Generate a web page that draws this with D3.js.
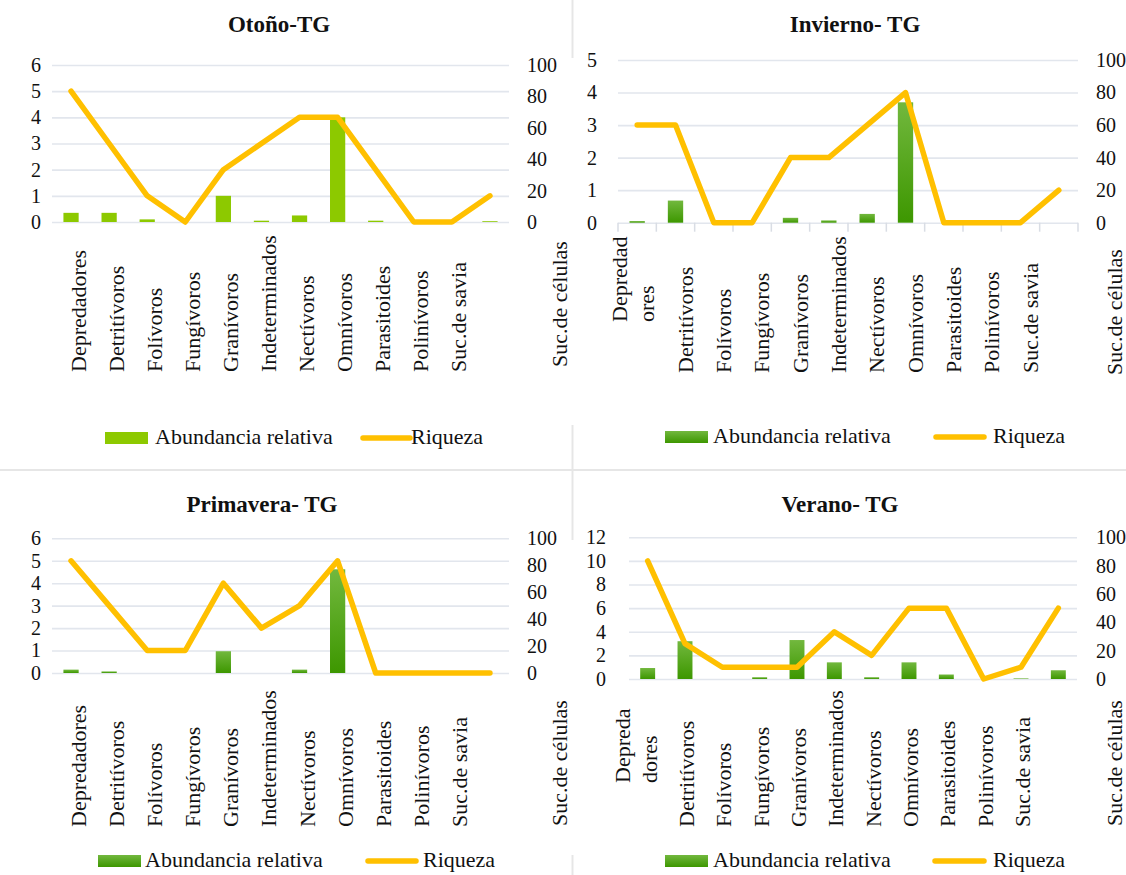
<!DOCTYPE html>
<html>
<head>
<meta charset="utf-8">
<script src="https://cdn.jsdelivr.net/npm/d3@7"></script>
<style>
body { margin: 0; background: #fff; }
</style>
</head>
<body>
<svg id="chart" width="1126" height="875"></svg>
<script>
// feeding guilds (x axis)
const categories = ["Depredadores", "Detritívoros", "Folívoros", "Fungívoros", "Granívoros",
    "Indeterminados", "Nectívoros", "Omnívoros", "Parasitoides", "Polinívoros",
    "Suc.de savia", "Suc.de células"];

// abundancia relativa (left axis) and riqueza (right axis) per season
const otonoAbund = [0.35, 0.35, 0.1, 0, 1.0, 0.05, 0.25, 4.0, 0.05, 0, 0, 0.03];
const otonoRiq = [83.3, 50, 16.7, 0, 33.3, 50, 66.7, 66.7, 33.3, 0, 0, 16.7];

const inviernoAbund = [0.05, 0.68, 0, 0, 0.15, 0.07, 0.27, 3.7, 0, 0, 0, 0];
const inviernoRiq = [60, 60, 0, 0, 40, 40, 60, 80, 0, 0, 0, 20];

const primaveraAbund = [0.15, 0.07, 0, 0, 0.97, 0, 0.15, 4.62, 0, 0, 0, 0];
const primaveraRiq = [83.3, 50, 16.7, 16.7, 66.7, 33.3, 50, 83.3, 0, 0, 0, 0];

const veranoAbund = [0.93, 3.2, 0, 0.15, 3.3, 1.41, 0.15, 1.41, 0.38, 0, 0.05, 0.74];
const veranoRiq = [83.3, 25, 8.3, 8.3, 8.3, 33.3, 16.7, 50, 50, 0, 8.3, 50];

// axis ticks
const rightTicks = [0, 20, 40, 60, 80, 100];
const legendBar = "Abundancia relativa";
const legendLine = "Riqueza";

const FONT = "'Liberation Serif', 'Times New Roman', serif";

// layout of the four charts
const panels = [
    {title: "Otoño-TG", abund: otonoAbund, riq: otonoRiq, leftMax: 6, leftStep: 1,
     x0: 52, x1: 509, yTop: 65, yZero: 222, titleX: 279, titleY: 32,
     leftLab: 41, rightLab: 527, labY: 372, labOff: 14.5, lastX: 567, lastY: 367,
     wrap: {}, catTicks: false, flat: true,
     leg: {sx: 105, y: 438, tx: 155, lx1: 363, lx2: 410, rx: 411}},
    {title: "Invierno- TG", abund: inviernoAbund, riq: inviernoRiq, leftMax: 5, leftStep: 1,
     x0: 618, x1: 1078, yTop: 60, yZero: 222.7, titleX: 855, titleY: 32,
     leftLab: 597, rightLab: 1096, labY: 373, labOff: 17, lastX: 1122, lastY: 375,
     wrap: {"Depredadores": ["Depredad", "ores"]}, wrapY: 322, catTicks: true, flat: false,
     leg: {sx: 665, y: 437, tx: 713, lx1: 936, lx2: 984, rx: 993}},
    {title: "Primavera- TG", abund: primaveraAbund, riq: primaveraRiq, leftMax: 6, leftStep: 1,
     x0: 52, x1: 509, yTop: 538.3, yZero: 673, titleX: 262, titleY: 512,
     leftLab: 41, rightLab: 527, labY: 827, labOff: 15, lastX: 567, lastY: 826,
     wrap: {}, catTicks: false, flat: false,
     leg: {sx: 98, y: 861, tx: 145, lx1: 368, lx2: 416, rx: 423}},
    {title: "Verano- TG", abund: veranoAbund, riq: veranoRiq, leftMax: 12, leftStep: 2,
     x0: 629, x1: 1077, yTop: 537.3, yZero: 679, titleX: 840, titleY: 512,
     leftLab: 606, rightLab: 1096, labY: 827, labOff: 9, lastX: 1122, lastY: 826,
     wrap: {"Depredadores": ["Depreda", "dores"]}, wrapY: 783, catTicks: false, flat: false,
     leg: {sx: 665, y: 861, tx: 713, lx1: 935, lx2: 984, rx: 993}}
];

const svg = d3.select("#chart")
    .attr("font-family", FONT);

// gradient for the darker green bars
let grad = svg.append("defs").append("linearGradient")
    .attr("id", "greenGrad")
    .attr("x1", 0).attr("y1", 0).attr("x2", 0).attr("y2", 1);
grad.append("stop").attr("offset", "0%").attr("stop-color", "#72b83e");
grad.append("stop").attr("offset", "100%").attr("stop-color", "#3d9700");

// faint borders left over from the spreadsheet charts
const border = "#e6e6e6";
svg.append("line").attr("x1", 0).attr("x2", 1126).attr("y1", 470).attr("y2", 470)
    .attr("stroke", border).attr("stroke-width", 2);
[[0, 58], [425, 540], [855, 875]].forEach(function(s) {
    svg.append("line").attr("x1", 572.5).attr("x2", 572.5).attr("y1", s[0]).attr("y2", s[1])
        .attr("stroke", border).attr("stroke-width", 2);
});

panels.forEach(function(p) { drawPanel(p); });

function txt(sel) {
    return sel.style("font-family", FONT).attr("fill", "#111");
}

function drawPanel(p) {
    let g = svg.append("g");

    let x = d3.scaleBand().domain(categories).range([p.x0, p.x1]);
    let yL = d3.scaleLinear().domain([0, p.leftMax]).range([p.yZero, p.yTop]);
    let yR = d3.scaleLinear().domain([0, 100]).range([p.yZero, p.yTop]);
    let cx = function(c) { return x(c) + x.bandwidth() / 2; };

    // left axis with gridlines
    let leftTicks = d3.range(0, p.leftMax + p.leftStep / 2, p.leftStep);
    let la = g.append("g")
        .attr("transform", "translate(" + p.x0 + ",0)")
        .call(d3.axisLeft(yL).tickValues(leftTicks).tickFormat(d3.format("d"))
            .tickSize(-(p.x1 - p.x0)).tickPadding(p.x0 - p.leftLab));
    la.select(".domain").remove();
    la.selectAll("line").attr("stroke", "#e2e6ed").attr("stroke-width", 1.6);
    txt(la.selectAll("text")).attr("font-size", 20);

    // right axis, no lines
    let ra = g.append("g")
        .attr("transform", "translate(" + p.x1 + ",0)")
        .call(d3.axisRight(yR).tickValues(rightTicks).tickFormat(d3.format("d"))
            .tickSize(0).tickPadding(p.rightLab - p.x1));
    ra.select(".domain").remove();
    txt(ra.selectAll("text")).attr("font-size", 20);

    // little category ticks under the axis
    if (p.catTicks) {
        let edges = categories.map(function(c) { return x(c); }).concat([p.x1]);
        g.selectAll("line.ctick").data(edges).enter().append("line")
            .attr("x1", function(d) { return d; }).attr("x2", function(d) { return d; })
            .attr("y1", p.yZero).attr("y2", p.yZero + 9)
            .attr("stroke", "#d9dde4").attr("stroke-width", 1.5);
    }

    // the bars
    let bw = x.bandwidth() * 0.4;
    g.selectAll("rect.bar")
        .data(p.abund.map(function(v, i) { return {cat: categories[i], val: v}; }))
        .enter().append("rect")
        .attr("x", function(d) { return cx(d.cat) - bw / 2; })
        .attr("y", function(d) { return yL(d.val); })
        .attr("width", bw)
        .attr("height", function(d) { return p.yZero - yL(d.val); })
        .attr("fill", p.flat ? "#8dc900" : "url(#greenGrad)");

    // riqueza line
    let line = d3.line()
        .x(function(d, i) { return cx(categories[i]); })
        .y(function(d) { return yR(d); });
    g.append("path")
        .datum(p.riq)
        .attr("d", line)
        .attr("fill", "none")
        .attr("stroke", "#ffc000")
        .attr("stroke-width", 5.5)
        .attr("stroke-linejoin", "round")
        .attr("stroke-linecap", "round");

    // category labels, rotated
    categories.forEach(function(c, i) {
        let bx = cx(c) + p.labOff;
        let by = p.labY;
        if (i == categories.length - 1) {
            bx = p.lastX;
            by = p.lastY;
        }
        let lines = p.wrap[c] ? p.wrap[c] : [c];
        if (p.wrap[c]) {
            by = p.wrapY;
        }
        lines.forEach(function(t, k) {
            let lx = bx - 27 * (lines.length - 1 - k);
            txt(g.append("text"))
                .attr("transform", "translate(" + lx + "," + by + ") rotate(-90)")
                .attr("text-anchor", "start")
                .attr("font-size", 22)
                .text(t);
        });
    });

    // title
    txt(g.append("text"))
        .attr("x", p.titleX)
        .attr("y", p.titleY)
        .attr("text-anchor", "middle")
        .attr("font-size", 23)
        .attr("font-weight", "bold")
        .text(p.title);

    // legend
    let L = p.leg;
    g.append("rect")
        .attr("x", L.sx).attr("y", L.y - 6)
        .attr("width", 43).attr("height", 12)
        .attr("fill", p.flat ? "#8dc900" : "url(#greenGrad)");
    txt(g.append("text"))
        .attr("x", L.tx).attr("y", L.y + 6)
        .attr("font-size", 22)
        .text(legendBar);
    g.append("line")
        .attr("x1", L.lx1).attr("x2", L.lx2)
        .attr("y1", L.y).attr("y2", L.y)
        .attr("stroke", "#ffc000").attr("stroke-width", 5.5)
        .attr("stroke-linecap", "round");
    txt(g.append("text"))
        .attr("x", L.rx).attr("y", L.y + 6)
        .attr("font-size", 22)
        .text(legendLine);
}
</script>
</body>
</html>
